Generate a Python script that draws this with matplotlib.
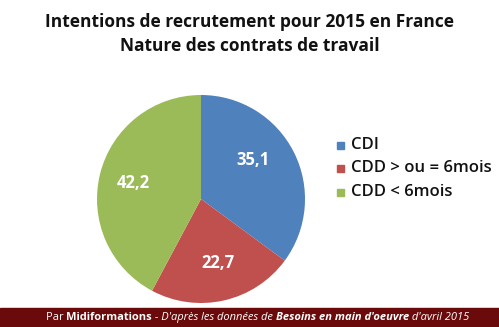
import matplotlib.pyplot as plt
from matplotlib.patches import Rectangle

plt.rcParams["font.family"] = ["Open Sans", "DejaVu Sans"]

labels = ["CDI", "CDD > ou = 6mois", "CDD < 6mois"]
shares = [35.1, 22.7, 42.2]
colors = ["#4f81bd", "#c0504d", "#9bbb59"]
title = "Intentions de recrutement pour 2015 en France\nNature des contrats de travail"
footer = [("Par ", "normal", "normal"), ("Midiformations", "bold", "normal"),
          (" - D'après les données de ", "normal", "italic"),
          ("Besoins en main d'oeuvre", "bold", "italic"),
          (" d'avril 2015", "normal", "italic")]

W, H = 499, 327
fig = plt.figure(figsize=(W / 100, H / 100), dpi=100)
fig.patch.set_facecolor("white")

# pie placed in pixel terms: centre (201, 199), radius 104
cx, cy, r = 201, 199, 104
ax = fig.add_axes([(cx - r) / W, (H - cy - r) / H, 2 * r / W, 2 * r / H])
ax.pie(shares, colors=colors, startangle=90, counterclock=False, radius=1,
       wedgeprops=dict(linewidth=0))
ax.set_xlim(-1, 1); ax.set_ylim(-1, 1); ax.set_aspect("equal"); ax.axis("off")

# value labels
label_pos = [(253, 160), (218, 263), (133, 183)]
for v, (px, py) in zip(shares, label_pos):
    fig.text(px / W, 1 - py / H, f"{v:.1f}".replace(".", ","), color="white",
             fontsize=12, fontweight="bold", ha="center", va="center")

# legend
for i, (lab, c) in enumerate(zip(labels, colors)):
    y = 145 + i * 23.5
    fig.patches.append(Rectangle((337 / W, 1 - (y + 3.5) / H), 7 / W, 7 / H,
                                 transform=fig.transFigure, color=c))
    fig.text(351 / W, 1 - y / H, lab, fontsize=12, fontweight="semibold",
             va="center", ha="left", color="#111111")

fig.text(0.5, 1 - 34 / H, title, ha="center", va="center", fontsize=12.5,
         fontweight="bold", linespacing=1.45, color="#111111")

# footer band
fig.patches.append(Rectangle((0, 0), 1, 19 / H, transform=fig.transFigure,
                             color="#6a0a0a", zorder=0))
renderer = fig.canvas.get_renderer()
pieces = []
total = 0
for txt, w, s in footer:
    t = fig.text(0, 9.5 / H, txt, color="white", fontsize=8, fontweight=w,
                 fontstyle=s, va="center", ha="left")
    bb = t.get_window_extent(renderer)
    pieces.append((t, bb.width))
    total += bb.width
x = (W - total) / 2 + 8
for t, wd in pieces:
    t.set_x(x / W)
    x += wd

fig.savefig("out.png", dpi=100)
